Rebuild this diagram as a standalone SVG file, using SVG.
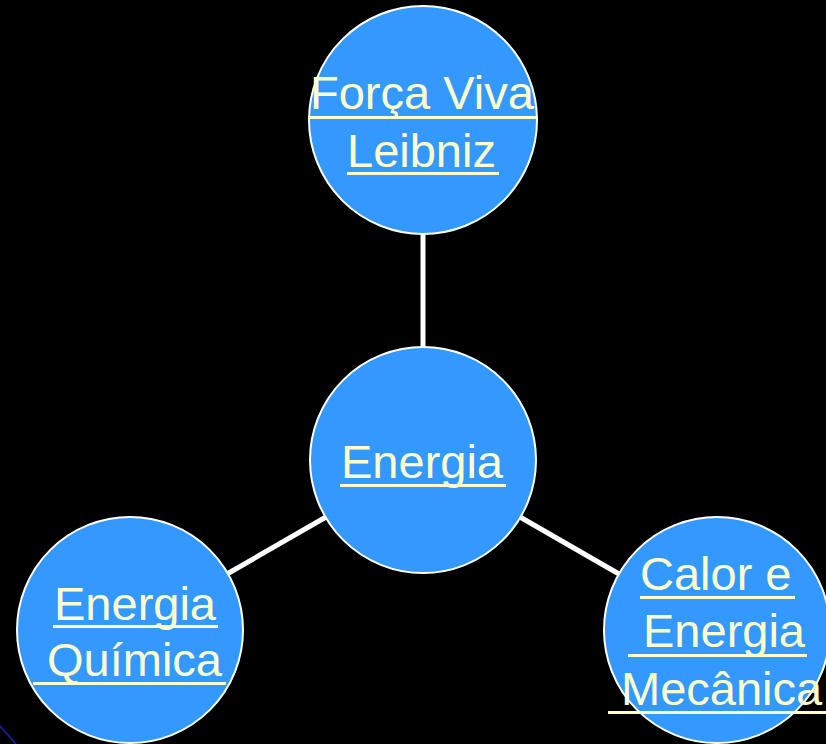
<svg xmlns="http://www.w3.org/2000/svg" width="826" height="744" viewBox="0 0 826 744">
<style>
.node{fill:#3399FF;stroke:#FFFFFF;stroke-width:2}
.lbl{font-family:"Liberation Sans",Arial,sans-serif;font-size:47px;fill:#FFFFCC}
.ul{fill:#FFFFCC}
.conn{stroke:#FFFFFF;stroke-width:5;fill:none}
</style>
<rect width="826" height="744" fill="#000000"/>
<line x1="0" y1="726" x2="16" y2="744" stroke="#1A1A8C" stroke-width="2"/>
<g id="connectors">
<line class="conn" x1="423" y1="232" x2="423" y2="348"/>
<line class="conn" x1="326" y1="517" x2="227" y2="574"/>
<line class="conn" x1="520" y1="517" x2="619" y2="574"/>
</g>
<g id="forca-viva">
<circle class="node" cx="423" cy="120" r="114"/>
<text class="lbl" x="310" y="109">Força Viva</text>
<rect class="ul" x="308" y="116" width="230" height="3"/>
<text class="lbl" x="347" y="167">Leibniz</text>
<rect class="ul" x="347" y="172" width="152" height="3"/>
</g>
<g id="energia">
<circle class="node" cx="423" cy="460" r="113"/>
<text class="lbl" x="341" y="478">Energia</text>
<rect class="ul" x="340" y="484" width="166" height="3"/>
</g>
<g id="energia-quimica">
<circle class="node" cx="130" cy="630" r="113"/>
<text class="lbl" x="54" y="620">Energia</text>
<rect class="ul" x="53" y="625" width="165" height="3"/>
<text class="lbl" x="47" y="676">Química</text>
<rect class="ul" x="33" y="682" width="193" height="3"/>
</g>
<g id="calor-energia-mecanica">
<circle class="node" cx="717" cy="630" r="113"/>
<text class="lbl" x="640" y="590">Calor e</text>
<rect class="ul" x="640" y="596" width="155" height="3"/>
<text class="lbl" x="643" y="647">Energia</text>
<rect class="ul" x="628" y="654" width="179" height="3"/>
<text class="lbl" x="621" y="705">Mecânica</text>
<rect class="ul" x="608" y="711" width="218" height="3"/>
</g>
</svg>
